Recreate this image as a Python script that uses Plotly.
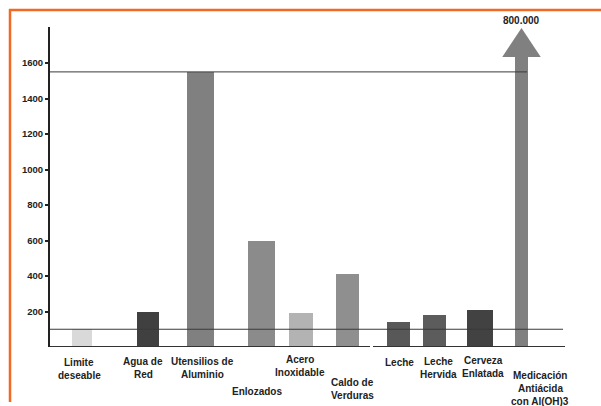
import plotly.graph_objects as go

# Aluminium content by source (the last one is far off the scale)
categories = ["Limite deseable", "Agua de Red", "Utensilios de Aluminio", "Enlozados",
              "Acero Inoxidable", "Caldo de Verduras", "Leche", "Leche Hervida",
              "Cerveza Enlatada", "Medicación Antiácida con Al(OH)3"]
values = [100, 200, 1550, 600, 190, 410, 139, 179, 211, 800000]
value_labels = [None, None, None, None, None, None, None, None, None, "800.000"]
label_lines = [["Limite", "deseable"], ["Agua de", "Red"], ["Utensilios de", "Aluminio"],
               ["Enlozados"], ["Acero", "Inoxidable"], ["Caldo de", "Verduras"],
               ["Leche"], ["Leche", "Hervida"], ["Cerveza", "Enlatada"],
               ["Medicación", "Antiácida", "con Al(OH)3"]]
tick_vals = [200, 400, 600, 800, 1000, 1200, 1400, 1600]
limit_level = 100
aluminio_level = 1550

# ---- layout ----
W, H = 601, 406
L, R, T, B = 50, 26, 27, 59
PW, PH = W - L - R, H - T - B
Y_MAX = 1803
X_MAX = 10.5
LINE_GAP = 13

slots = [0.63, 1.95, 3.0, 4.22, 5.02, 5.95, 6.97, 7.68, 8.59, 9.43]
widths = [0.40, 0.44, 0.54, 0.54, 0.48, 0.46, 0.46, 0.46, 0.52, 0.26]
colors = ["#d9d9d9", "#404040", "#808080", "#8b8b8b", "#b3b3b3", "#8f8f8f",
          "#585858", "#5c5c5c", "#424242", "#808080"]
label_pos = [(79, 368.5), (143, 368), (202, 368), (257, 391), (300, 365.5),
             (352, 389), (399, 362.7), (438, 368), (483, 366.5), (540, 388)]

BREAK = 1634       # where off-scale bars turn into an arrow head
TIP = 1797
HEAD_W = 0.77

LABEL_FONT = dict(family="Liberation Sans", size=10, color="#222222", weight="bold")


def px(x):
    return (x - L) / PW


def py(y):
    return (H - B - y) / PH


shown = [min(v, BREAK) for v in values]

fig = go.Figure()
fig.add_trace(go.Bar(x=slots, y=shown, width=widths, marker=dict(color=colors, line=dict(width=0)),
                     hoverinfo="skip", showlegend=False))

shapes = []
annotations = []

# arrow heads for values beyond the axis
for xs, v, c, lab in zip(slots, values, colors, value_labels):
    if v > BREAK:
        shapes.append(dict(type="path", xref="x", yref="y",
                           path=f"M {xs - HEAD_W / 2} {BREAK} L {xs + HEAD_W / 2} {BREAK} L {xs} {TIP} Z",
                           fillcolor=c, line=dict(width=0)))
        annotations.append(dict(x=xs, y=TIP, xref="x", yref="y", text=lab or f"{v}", showarrow=False,
                                yanchor="bottom", yshift=0, font=LABEL_FONT))

# reference lines
shapes.append(dict(type="line", xref="x", yref="y", x0=0, x1=9.54, y0=aluminio_level, y1=aluminio_level,
                   line=dict(color="#3a3a3a", width=1)))
shapes.append(dict(type="line", xref="x", yref="y", x0=0, x1=10.26, y0=limit_level, y1=limit_level,
                   line=dict(color="#3a3a3a", width=1.2)))
# baseline in two pieces
shapes.append(dict(type="line", xref="x", yref="y", x0=0, x1=6.4, y0=0, y1=0,
                   line=dict(color="#333333", width=2)))
shapes.append(dict(type="line", xref="x", yref="y", x0=6.46, x1=10.3, y0=0, y1=0,
                   line=dict(color="#333333", width=2)))

# orange frame
shapes.append(dict(type="line", xref="paper", yref="paper", x0=px(10), x1=px(10), y0=py(9), y1=py(402),
                   line=dict(color="#f26a21", width=2.5)))
shapes.append(dict(type="line", xref="paper", yref="paper", x0=px(9), x1=px(605), y0=py(10), y1=py(10),
                   line=dict(color="#f26a21", width=2.5)))

# category labels, one annotation per text line
for lines, (lx, ly) in zip(label_lines, label_pos):
    n = len(lines)
    for i, line in enumerate(lines):
        yy = ly + (i - (n - 1) / 2) * LINE_GAP
        annotations.append(dict(x=px(lx), y=py(yy), xref="paper", yref="paper", text=line,
                                showarrow=False, xanchor="center", yanchor="middle",
                                font=LABEL_FONT))

fig.update_layout(
    width=W, height=H,
    margin=dict(l=L, r=R, t=T, b=B),
    paper_bgcolor="white", plot_bgcolor="white",
    bargap=0,
    shapes=shapes, annotations=annotations,
    xaxis=dict(range=[0, X_MAX], showgrid=False, zeroline=False, showticklabels=False,
               showline=False, ticks=""),
    yaxis=dict(range=[0, Y_MAX], showgrid=False, zeroline=False, showline=True,
               linecolor="#222222", linewidth=2, ticks="outside", ticklen=3, tickwidth=2,
               tickcolor="#222222", tickvals=tick_vals,
               tickfont=dict(family="Liberation Sans", size=9.5, color="#222222", weight="bold")),
)

fig.write_html("out.html")
